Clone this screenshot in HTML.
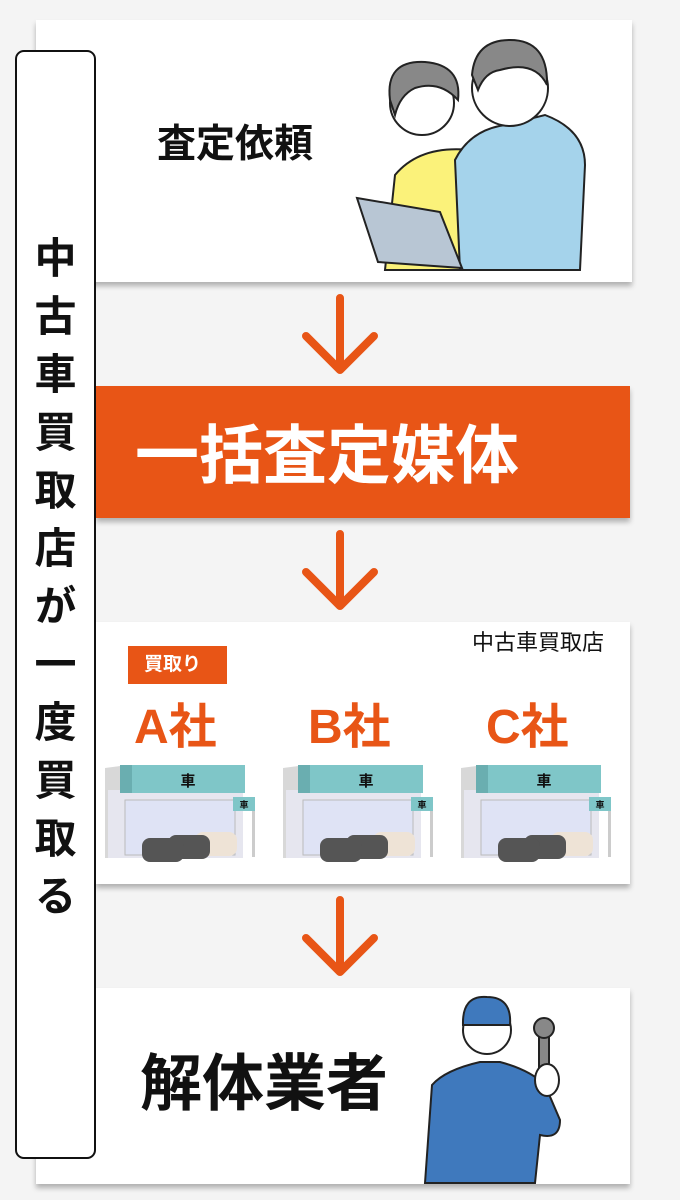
<!DOCTYPE html>
<html><head><meta charset="utf-8"><style>
*{margin:0;padding:0;box-sizing:border-box}
body{width:680px;height:1200px;background:#f4f4f4;position:relative;overflow:hidden;font-family:"Liberation Sans","Noto Sans CJK JP",sans-serif}
.a{position:absolute}
.card{position:absolute;background:#fff;box-shadow:0 4px 5px rgba(0,0,0,.28)}
.t{position:absolute;font-weight:bold;white-space:nowrap;line-height:1}
</style></head><body>
<div class="card" style="left:36px;top:20px;width:596px;height:262px"></div>
<div class="card" style="left:96px;top:386px;width:534px;height:132px;background:#e85516"></div>
<div class="card" style="left:96px;top:622px;width:534px;height:262px"></div>
<div class="card" style="left:36px;top:988px;width:594px;height:196px"></div>

<div class="a" style="left:15px;top:50px;width:81px;height:1109px;background:#fff;border:2px solid #111;border-radius:9px"></div>
<div class="t" style="left:27px;top:236px;width:46px;font-size:42px;letter-spacing:16px;writing-mode:vertical-rl;color:#111">中古車買取店が一度買取る</div>

<div class="t" style="left:157px;top:125px;font-size:39px;color:#111">査定依頼</div>
<div class="t" style="left:135px;top:424px;font-size:64px;color:#fff">一括査定媒体</div>
<div class="t" style="left:472px;top:632px;font-size:22px;font-weight:normal;color:#111">中古車買取店</div>
<div class="a" style="left:128px;top:646px;width:99px;height:38px;background:#e85516"></div>
<div class="t" style="left:144px;top:655px;font-size:19px;color:#fff">買取り</div>
<div class="t" style="left:134px;top:704px;font-size:48px;color:#e85516">A社</div>
<div class="t" style="left:308px;top:704px;font-size:48px;color:#e85516">B社</div>
<div class="t" style="left:486px;top:704px;font-size:48px;color:#e85516">C社</div>
<div class="t" style="left:140px;top:1054px;font-size:62px;color:#111">解体業者</div>

<svg class="a" style="left:0;top:0" width="680" height="1200">
<g fill="none" stroke="#e85516" stroke-width="8" stroke-linecap="round" stroke-linejoin="round">
<path d="M340 298V368M306 336L340 370L374 336"/>
<path d="M340 534V604M306 572L340 606L374 572"/>
<path d="M340 900V970M306 938L340 972L374 938"/>
</g>
<g stroke="#222" stroke-width="2">
<path d="M385 270L395 175Q420 145 470 150L470 270Z" fill="#fbf27a"/>
<circle cx="422" cy="103" r="32" fill="#fff"/>
<path d="M390 100Q385 60 425 62Q462 65 458 100Q440 80 415 88Q400 95 395 115Z" fill="#888"/>
<path d="M455 160Q470 130 505 125L545 115Q585 130 585 165L580 270L460 270Z" fill="#a5d3eb"/>
<circle cx="510" cy="88" r="38" fill="#fff"/>
<path d="M472 75Q475 40 510 40Q548 40 547 85Q535 60 500 70Q485 72 478 90Z" fill="#888"/>
<path d="M357 198L440 212L462 268L378 262Z" fill="#b8c6d4"/>
</g>
<g id="st">
<path d="M105 768L128 765V858H105Z" fill="#d8d8d8"/>
<rect x="108" y="790" width="135" height="68" fill="#e6e6ef"/>
<rect x="125" y="800" width="110" height="55" fill="#dfe3f5" stroke="#bbb"/>
<path d="M120 765H245V793H120Z" fill="#7fc6c8"/>
<rect x="120" y="765" width="12" height="28" fill="#6aaeb0"/>
<rect x="233" y="797" width="22" height="14" fill="#7fc6c8"/>
<rect x="252" y="811" width="3" height="46" fill="#ccc"/>
<rect x="195" y="832" width="42" height="24" rx="8" fill="#eee3d6"/>
<rect x="168" y="835" width="42" height="24" rx="8" fill="#555"/>
<rect x="142" y="838" width="42" height="24" rx="8" fill="#555"/>
<text x="188" y="786" font-size="15" font-weight="bold" text-anchor="middle" fill="#111">車</text>
<text x="244" y="808" font-size="9" font-weight="bold" text-anchor="middle" fill="#111">車</text>
</g>
<use href="#st" x="178"/>
<use href="#st" x="356"/>
<g stroke="#222" stroke-width="2">
<path d="M425 1183L432 1085Q445 1070 480 1062L500 1062Q530 1070 545 1085L560 1120Q560 1140 540 1135L535 1183Z" fill="#3f79bd"/>
<circle cx="487" cy="1030" r="24" fill="#fff"/>
<path d="M463 1025Q462 995 487 997Q512 997 510 1025Z" fill="#3f79bd"/>
<rect x="539" y="1030" width="10" height="38" fill="#888"/>
<circle cx="544" cy="1028" r="10" fill="#888"/>
<ellipse cx="547" cy="1080" rx="12" ry="16" fill="#fff"/>
</g>
</svg>
</body></html>
